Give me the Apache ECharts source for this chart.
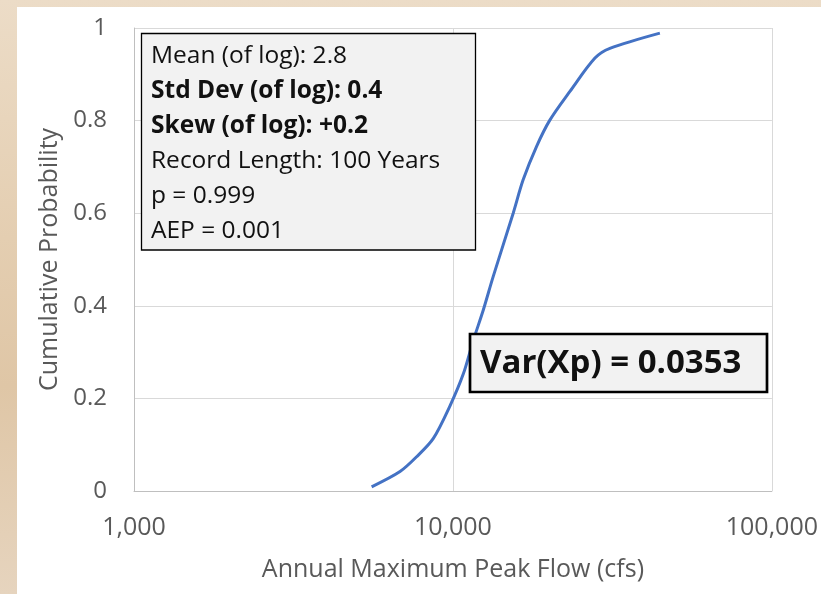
<!DOCTYPE html>
<html>
<head>
    <meta charset="utf-8">
    <title>Cumulative Probability</title>
    <script src="https://cdn.jsdelivr.net/npm/echarts@6/dist/echarts.min.js"></script>
    <style>
        html, body { margin: 0; padding: 0; }
        #main {
            width: 821px; height: 594px;
            background:
                linear-gradient(#fff, #fff) 17px 7px / 804px 587px no-repeat,
                linear-gradient(to bottom, #ecdcc7 0%, #e4ceb1 40%, #dfc6a6 65%, #e6d4be 100%);
        }
    </style>
</head>
<body>
<div id="main"></div>
<script type="text/javascript">
    // values
    var flow = [5560, 6825, 7695, 8670, 9790, 10780, 11580, 12450, 13370, 15450, 16600, 18280, 20130, 23270, 27880, 31050, 44550];
    var prob = [0.009, 0.042, 0.074, 0.113, 0.184, 0.253, 0.325, 0.391, 0.463, 0.600, 0.672, 0.744, 0.801, 0.863, 0.935, 0.956, 0.989];

    var statLines = [
        ['n', 'Mean (of log): 2.8'],
        ['b', 'Std Dev (of log): 0.4'],
        ['b', 'Skew (of log): +0.2'],
        ['n', 'Record Length: 100 Years'],
        ['n', 'p = 0.999'],
        ['n', 'AEP = 0.001']
    ];
    var varText = 'Var(Xp) = 0.0353';

    var font = 'Open Sans';
    var grey = '#595959';

    var chart = echarts.init(document.getElementById('main'));

    var points = [];
    for (var i = 0; i < flow.length; i++) {
        points.push([flow[i], prob[i]]);
    }

    var statText = statLines.map(function (l) {
        return '{' + l[0] + '|' + l[1] + '}';
    }).join('\n');

    var option = {
        animation: false,
        backgroundColor: 'transparent',
        grid: {
            left: 134,
            right: 48,
            top: 28,
            bottom: 103
        },
        xAxis: {
            type: 'log',
            logBase: 10,
            min: 1000,
            max: 100000,
            name: 'Annual Maximum Peak Flow (cfs)',
            nameLocation: 'middle',
            nameGap: 66,
            nameTextStyle: { color: grey, fontSize: 25, fontFamily: font },
            axisLine: { show: true, lineStyle: { color: '#bfbfbf', width: 1 } },
            axisTick: { show: false },
            axisLabel: {
                color: grey, fontSize: 25, fontFamily: font, margin: 24,
                formatter: function (v) { return Number(v).toLocaleString('en-US'); }
            },
            splitLine: { show: true, lineStyle: { color: '#d9d9d9', width: 1 } },
            minorTick: { show: false },
            minorSplitLine: { show: false }
        },
        yAxis: {
            type: 'value',
            min: 0,
            max: 1,
            interval: 0.2,
            name: 'Cumulative Probability',
            nameLocation: 'middle',
            nameGap: 72,
            nameTextStyle: { color: grey, fontSize: 25, fontFamily: font },
            axisLine: { show: true, lineStyle: { color: '#bfbfbf', width: 1 } },
            axisTick: { show: false },
            axisLabel: {
                color: grey, fontSize: 24, fontFamily: font, margin: 27,
                formatter: function (v) { return String(+v.toFixed(1)); }
            },
            splitLine: { show: true, lineStyle: { color: '#d9d9d9', width: 1 } }
        },
        series: [
            {
                type: 'line',
                data: points,
                smooth: 0.3,
                showSymbol: false,
                lineStyle: { color: '#4472c4', width: 3 },
                z: 2
            }
        ],
        graphic: [
            {
                type: 'rect',
                z: 100,
                shape: { x: 141.5, y: 33.5, width: 334, height: 216.5 },
                style: { fill: '#f2f2f2', stroke: '#000', lineWidth: 1.3 }
            },
            {
                type: 'text',
                z: 101,
                x: 151,
                y: 39,
                style: {
                    text: statText,
                    fill: '#111',
                    verticalAlign: 'top',
                    rich: {
                        n: { fontSize: 24.5, fontFamily: font, fill: '#111', lineHeight: 35 },
                        b: { fontSize: 24.5, fontFamily: font, fontWeight: 'bold', fill: '#111', lineHeight: 35 }
                    }
                }
            },
            {
                type: 'rect',
                z: 100,
                shape: { x: 470, y: 334, width: 297, height: 58 },
                style: { fill: '#f2f2f2', stroke: '#000', lineWidth: 2.7 }
            },
            {
                type: 'text',
                z: 101,
                x: 480,
                y: 364,
                style: {
                    text: varText,
                    fill: '#111',
                    fontSize: 33,
                    fontWeight: 'bold',
                    fontFamily: font,
                    verticalAlign: 'middle'
                }
            }
        ]
    };

    chart.setOption(option);
</script>
</body>
</html>
